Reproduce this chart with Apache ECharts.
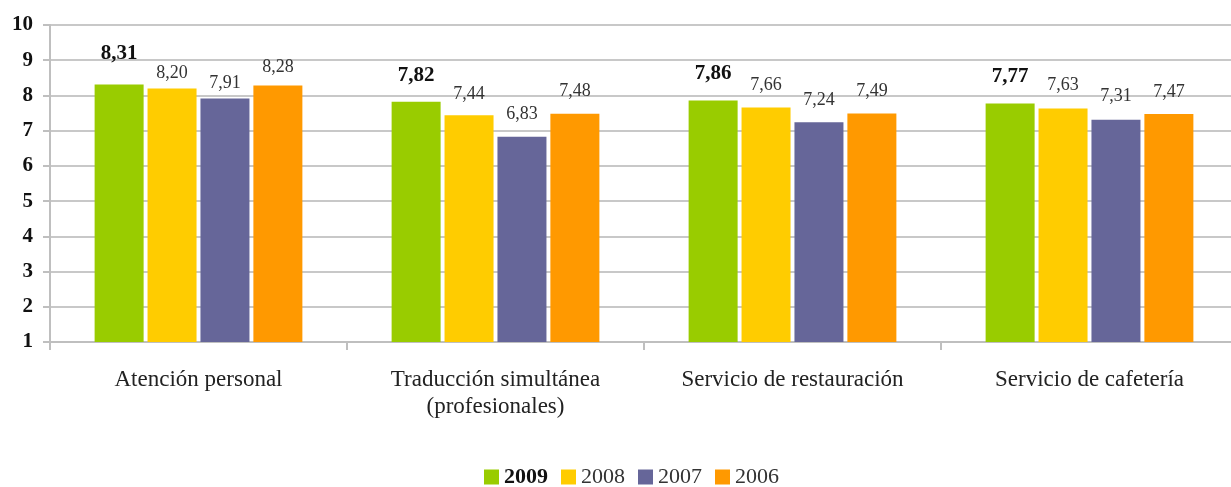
<!DOCTYPE html>
<html>
<head>
<meta charset="utf-8">
<script src="https://cdn.jsdelivr.net/npm/echarts@6/dist/echarts.min.js"></script>
<style>
  html, body { margin: 0; padding: 0; background: #fff; }
  #chart { width: 1231px; height: 487px; }
</style>
</head>
<body>
<div id="chart"></div>
<script>
const categories = ['Atención personal', 'Traducción simultánea\n(profesionales)', 'Servicio de restauración', 'Servicio de cafetería']
const years = ['2009', '2008', '2007', '2006']
const values2009 = [8.31, 7.82, 7.86, 7.77]
const values2008 = [8.20, 7.44, 7.66, 7.63]
const values2007 = [7.91, 6.83, 7.24, 7.31]
const values2006 = [8.28, 7.48, 7.49, 7.47]
const colors = ['#99cc00', '#ffcc00', '#666699', '#ff9900']

// gap between bar top and its label, per series / category (labels sit a bit unevenly in the original)
const labelGaps = [
    [20, 16, 16, 16],
    [6, 12, 13, 14],
    [6, 13, 13, 14],
    [9, 13, 13, 13]
]

const font = 'Liberation Serif, DejaVu Serif, serif'
const fmt = p => p.value.toFixed(2).replace('.', ',')

const seriesData = [values2009, values2008, values2007, values2006]
const series = seriesData.map((vals, i) => ({
    name: years[i],
    type: 'bar',
    data: vals.map((v, j) => ({ value: v, label: { distance: labelGaps[i][j] } })),
    barWidth: 49,
    barGap: '8%',
    itemStyle: { color: colors[i] },
    label: {
        show: true,
        position: 'top',
        formatter: fmt,
        fontFamily: font,
        fontSize: i === 0 ? 21 : 18,
        fontWeight: i === 0 ? 'bold' : 'normal',
        color: i === 0 ? '#111' : '#333'
    }
}))

const chart = echarts.init(document.getElementById('chart'))
chart.setOption({
    animation: false,
    color: colors,
    grid: { left: 50, width: 1188, top: 25, height: 317, outerBoundsMode: 'none', containLabel: false },
    legend: {
        top: 466,
        left: 484,
        padding: 0,
        itemWidth: 15,
        itemHeight: 15,
        itemGap: 13,
        icon: 'rect',
        data: years.map((y, i) => ({
            name: y,
            textStyle: { fontWeight: i === 0 ? 'bold' : 'normal', color: i === 0 ? '#111' : '#333' }
        })),
        textStyle: { fontFamily: font, fontSize: 22 }
    },
    xAxis: {
        type: 'category',
        data: categories,
        axisLine: { lineStyle: { color: '#bfbfbf', width: 2 } },
        axisTick: { show: true, length: 8, lineStyle: { color: '#bfbfbf', width: 2 } },
        axisLabel: {
            fontFamily: font,
            fontSize: 23,
            color: '#222',
            margin: 24,
            lineHeight: 27
        }
    },
    yAxis: {
        type: 'value',
        min: 1,
        max: 10,
        interval: 1,
        axisLine: { show: true, lineStyle: { color: '#bfbfbf', width: 2 } },
        axisTick: { show: true, length: 7, lineStyle: { color: '#bfbfbf', width: 2 } },
        splitLine: { lineStyle: { color: '#c8c8c8', width: 2 } },
        axisLabel: {
            fontFamily: font,
            fontSize: 21,
            fontWeight: 'bold',
            color: '#111',
            margin: 17
        }
    },
    series
})
</script>
</body>
</html>
